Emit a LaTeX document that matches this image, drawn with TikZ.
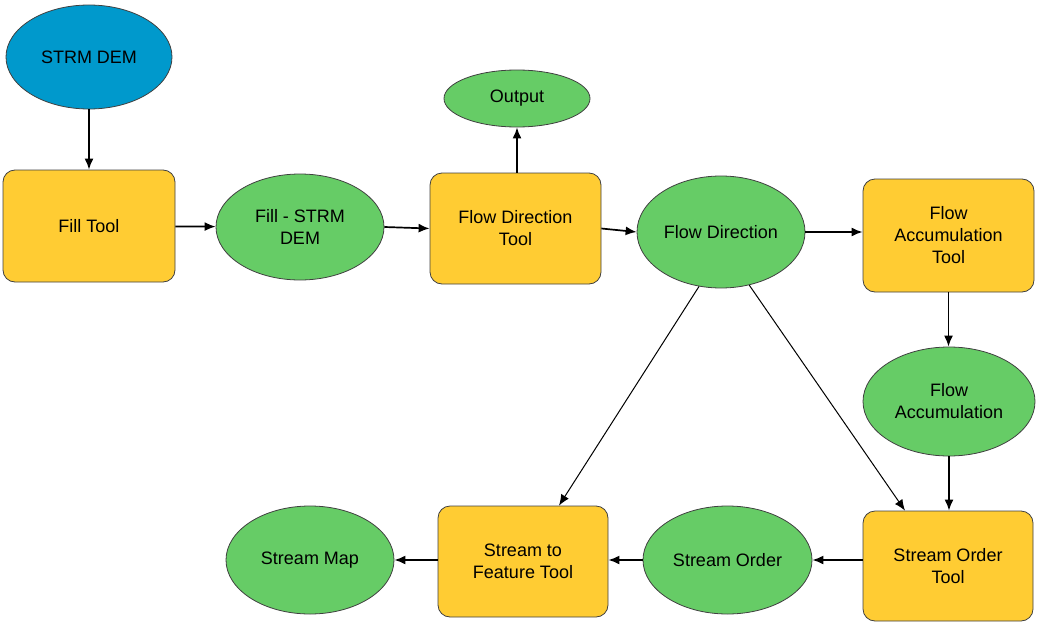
\documentclass[tikz,border=0pt]{standalone}
\usepackage{fontspec}
\setmainfont{Liberation Sans}
\usepackage{tikz}
\usetikzlibrary{arrows.meta,shapes.geometric}

\definecolor{demblue}{RGB}{0,153,204}
\definecolor{datagreen}{RGB}{102,204,102}
\definecolor{toolyellow}{RGB}{255,204,51}

\tikzset{
	data/.style={ellipse, draw=black!75, line width=0.8pt, fill=datagreen, inner sep=0pt, align=center, font=\fontsize{18}{22}\selectfont},
	tool/.style={rectangle, rounded corners=12pt, draw=black!75, line width=0.8pt, fill=toolyellow, inner sep=0pt, align=center, minimum width=171pt, minimum height=111pt, font=\fontsize{18}{22}\selectfont},
	flow/.style={line width=1.7pt, -{Latex[length=11pt,width=9pt]}},
	thinflow/.style={line width=1pt, -{Latex[length=11pt,width=9pt]}}
}

\begin{document}
\begin{tikzpicture}[x=1pt, y=-1pt]
			%%%%% START %%%%%
			\useasboundingbox (0, 0) rectangle (1038, 626);
			
			\node[data, fill=demblue, minimum width=166pt, minimum height=104pt] (dem) at (89, 57) {STRM DEM};
			\node[tool, minimum width=172pt, minimum height=112pt] (fill) at (89, 226) {Fill Tool};
			\node[data, minimum width=168pt, minimum height=106pt] (filldem) at (300, 227) {Fill - STRM\\DEM};
			
			\node[tool] (fdtool) at (515.5, 228.5) {Flow Direction\\Tool};
			\node[data, minimum width=146pt, minimum height=57pt] (output) at (517, 98.5) {Output};
			
			\node[data, minimum width=168pt, minimum height=112pt] (fdir) at (721, 232) {Flow Direction};
			\node[tool, minimum height=113pt] (factool) at (948.5, 235.5) {Flow\\Accumulation\\Tool};
			\node[data, minimum width=172pt, minimum height=109pt] (facc) at (949, 401.5) {Flow\\Accumulation};
			
			\node[tool, minimum width=170pt, minimum height=110pt] (sotool) at (948, 566) {Stream Order\\Tool};
			\node[data, minimum width=169pt, minimum height=108pt] (sorder) at (727.5, 560) {Stream Order};
			\node[tool, minimum width=170pt] (sftool) at (523, 561.5) {Stream to\\Feature Tool};
			\node[data, minimum width=168pt, minimum height=108pt] (smap) at (310, 560) {Stream Map};
			
			\draw[flow] (dem) -- (fill);
			\draw[flow] (fill) -- (filldem);
			\draw[flow] (filldem.east) -- (fdtool.west);
			\draw[flow] (fdtool.north -| output.south) -- (output.south);
			\draw[flow] (fdtool.east) -- (fdir.west);
			\draw[flow] (fdir.east) -- (fdir.east -| factool.west);
			\draw[flow] (factool.south) -- (factool.south |- facc.north);
			\draw[flow] (facc.south) -- (facc.south |- sotool.north);
			
			\draw[thinflow] (fdir.-112) -- ([xshift=36pt]sftool.north);
			\draw[thinflow] (fdir.-62) -- ([xshift=-43pt]sotool.north);
			
			\draw[flow] (sotool.west |- sorder.east) -- (sorder.east);
			\draw[flow] (sorder.west) -- (sorder.west -| sftool.east);
			\draw[flow] (sftool.west |- smap.east) -- (smap.east);
			%%%%% END %%%%%
\end{tikzpicture}
\end{document}
